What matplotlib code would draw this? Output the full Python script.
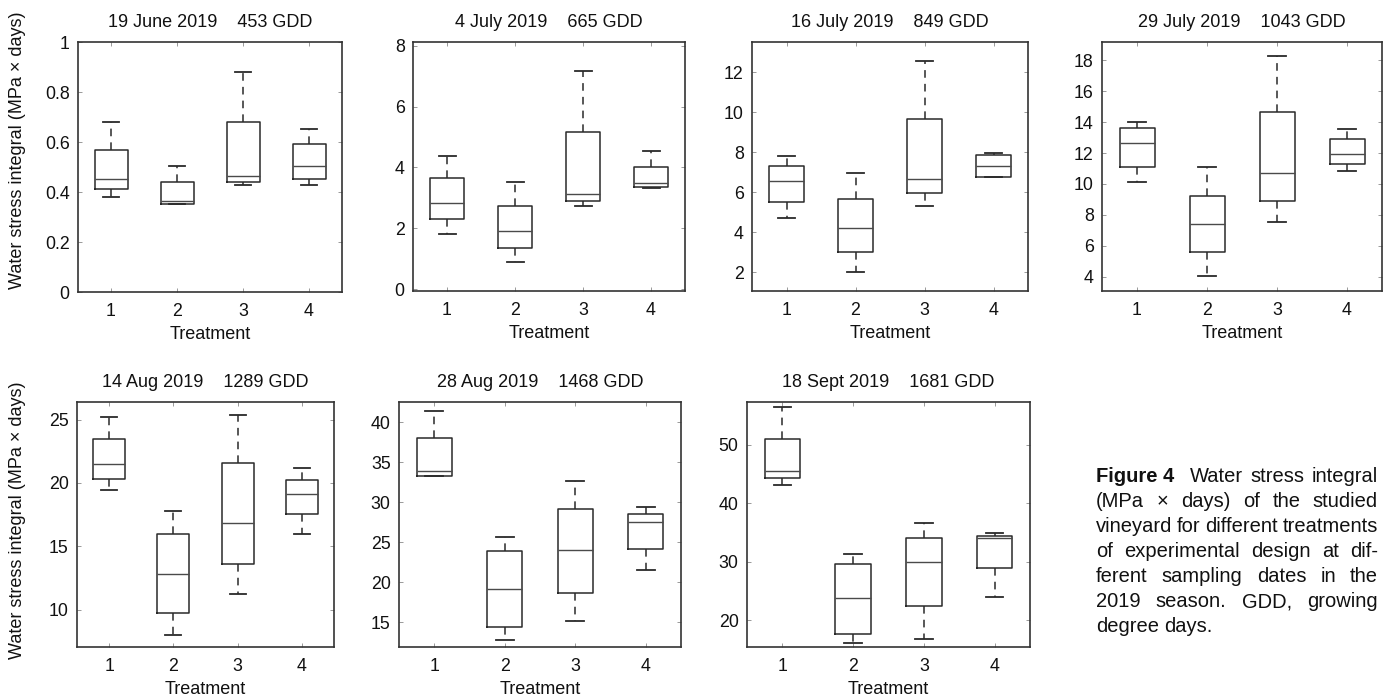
import matplotlib
matplotlib.use("Agg")
import matplotlib.pyplot as plt
from matplotlib.ticker import FixedLocator, FormatStrFormatter

plt.rcParams['font.family'] = ['Liberation Sans', 'DejaVu Sans']

# one entry per sampling date, four treatments each
dates = ['19 June 2019', '4 July 2019', '16 July 2019', '29 July 2019',
         '14 Aug 2019', '28 Aug 2019', '18 Sept 2019']
gdd = [453, 665, 849, 1043, 1289, 1468, 1681]
treatments = [1, 2, 3, 4]

whisker_low = [[0.38, 0.354, 0.43, 0.43],
               [1.81, 0.90, 2.74, 3.31],
               [4.69, 2.03, 5.32, 6.77],
               [10.10, 4.05, 7.55, 10.83],
               [19.45, 8.02, 11.21, 15.97],
               [33.21, 12.8, 15.09, 21.46],
               [43.14, 16.18, 16.86, 24.0]]
q1 = [[0.414, 0.354, 0.44, 0.454],
      [2.30, 1.36, 2.91, 3.35],
      [5.52, 3.03, 5.97, 6.77],
      [11.07, 5.62, 8.91, 11.26],
      [20.30, 9.76, 13.59, 17.53],
      [33.21, 14.38, 18.63, 24.17],
      [44.29, 17.72, 22.4, 28.86]]
median = [[0.454, 0.363, 0.464, 0.504],
          [2.84, 1.91, 3.12, 3.48],
          [6.55, 4.22, 6.64, 7.31],
          [12.66, 7.38, 10.68, 11.95],
          [21.49, 12.80, 16.81, 19.16],
          [33.84, 19.17, 24.05, 27.5],
          [45.54, 23.72, 29.89, 34.11]]
q3 = [[0.567, 0.44, 0.68, 0.591],
      [3.64, 2.74, 5.15, 4.00],
      [7.31, 5.64, 9.68, 7.88],
      [13.63, 9.21, 14.64, 12.90],
      [23.49, 15.97, 21.57, 20.25],
      [38.0, 23.88, 29.17, 28.55],
      [51.03, 29.55, 34.11, 34.4]]
whisker_high = [[0.68, 0.504, 0.88, 0.654],
                [4.38, 3.51, 7.18, 4.54],
                [7.80, 6.94, 12.53, 7.96],
                [14.01, 11.07, 18.26, 13.56],
                [25.18, 17.81, 25.34, 21.17],
                [41.38, 25.63, 32.59, 29.38],
                [56.4, 31.31, 36.58, 34.97]]

y_ticks = [[0, 0.2, 0.4, 0.6, 0.8, 1],
           [0, 2, 4, 6, 8],
           [2, 4, 6, 8, 10, 12],
           [4, 6, 8, 10, 12, 14, 16, 18],
           [10, 15, 20, 25],
           [15, 20, 25, 30, 35, 40],
           [20, 30, 40, 50]]
y_limits = [(0, 1), (-0.06, 8.12), (1.07, 13.5), (3.08, 19.18),
            (7.04, 26.4), (11.88, 42.5), (15.42, 57.3)]

caption = [[('Figure 4', 'bold'), ('Water', 'normal'), ('stress', 'normal'), ('integral', 'normal')],
           [('(MPa', 'normal'), ('×', 'normal'), ('days)', 'normal'), ('of', 'normal'),
            ('the', 'normal'), ('studied', 'normal')],
           [('vineyard', 'normal'), ('for', 'normal'), ('different', 'normal'), ('treatments', 'normal')],
           [('of', 'normal'), ('experimental', 'normal'), ('design', 'normal'), ('at', 'normal'),
            ('dif-', 'normal')],
           [('ferent', 'normal'), ('sampling', 'normal'), ('dates', 'normal'), ('in', 'normal'),
            ('the', 'normal')],
           [('2019', 'normal'), ('season.', 'normal'), ('GDD,', 'normal'), ('growing', 'normal')],
           [('degree', 'normal'), ('days.', 'normal')]]

W, H = 1387, 698
fig = plt.figure(figsize=(W / 100, H / 100), dpi=100)

# axes boxes in pixels: left, right, top, bottom
boxes = [(78, 342, 42, 292), (413, 685, 42, 291), (752, 1028, 42, 291), (1102, 1382, 42, 291),
         (77, 334, 402, 647), (399, 681, 402, 647), (747, 1030, 402, 647)]

line_col = '#2a2a2a'
for i, (l, r, t, b) in enumerate(boxes):
    ax = fig.add_axes([l / W, 1 - b / H, (r - l) / W, (b - t) / H])
    stats = []
    for j in range(4):
        stats.append({'whislo': whisker_low[i][j], 'q1': q1[i][j], 'med': median[i][j],
                      'q3': q3[i][j], 'whishi': whisker_high[i][j], 'fliers': []})
    ax.bxp(stats, positions=treatments, widths=0.5, capwidths=0.25, showfliers=False,
           boxprops=dict(color=line_col, linewidth=1.1),
           medianprops=dict(color='#4a4a4a', linewidth=1.0),
           whiskerprops=dict(color=line_col, linewidth=1.1, linestyle=(0, (5, 4))),
           capprops=dict(color=line_col, linewidth=1.3))
    ax.set_xlim(0.5, 4.5)
    ax.set_ylim(*y_limits[i])
    ax.xaxis.set_major_locator(FixedLocator(treatments))
    ax.yaxis.set_major_locator(FixedLocator(y_ticks[i]))
    ax.yaxis.set_major_formatter(FormatStrFormatter('%g'))
    ax.tick_params(direction='in', length=3, width=0.7, color='#999999',
                   top=True, right=True, labelsize=12.8, labelcolor='#111111')
    ax.tick_params(axis='x', pad=8)
    ax.tick_params(axis='y', pad=6)
    for s in ax.spines.values():
        s.set_linewidth(1.2)
        s.set_color('#333333')
    ax.set_title(f'{dates[i]}    {gdd[i]} GDD', fontsize=13, pad=11, color='#111111')
    ax.set_xlabel('Treatment', fontsize=13, labelpad=4, color='#111111')

ylab = 'Water stress integral (MPa × days)'
fig.text(18 / W, 1 - 150 / H, ylab, rotation=90, ha='center', va='center', fontsize=13, color='#111111')
fig.text(18 / W, 1 - 520 / H, ylab, rotation=90, ha='center', va='center', fontsize=13, color='#111111')

# justified caption block
renderer = fig.canvas.get_renderer()
cap_left, cap_right = 1096, 1378
base = 482
for k, line in enumerate(caption):
    y = 1 - (base + 25 * k) / H
    texts = [fig.text(0, y, w, fontsize=14.5, fontweight=wt, va='baseline', color='#111111')
             for w, wt in line]
    widths = [tx.get_window_extent(renderer).width for tx in texts]
    weights = [2.0 if line[n][1] == 'bold' else 1.0 for n in range(len(line) - 1)]
    if k == len(caption) - 1:
        gap_unit = 5.5
    else:
        gap_unit = (cap_right - cap_left - sum(widths)) / sum(weights)
    x = cap_left
    for n, tx in enumerate(texts):
        tx.set_x(x / W)
        if n < len(weights):
            x += widths[n] + gap_unit * weights[n]

fig.savefig('out.png', dpi=100)
